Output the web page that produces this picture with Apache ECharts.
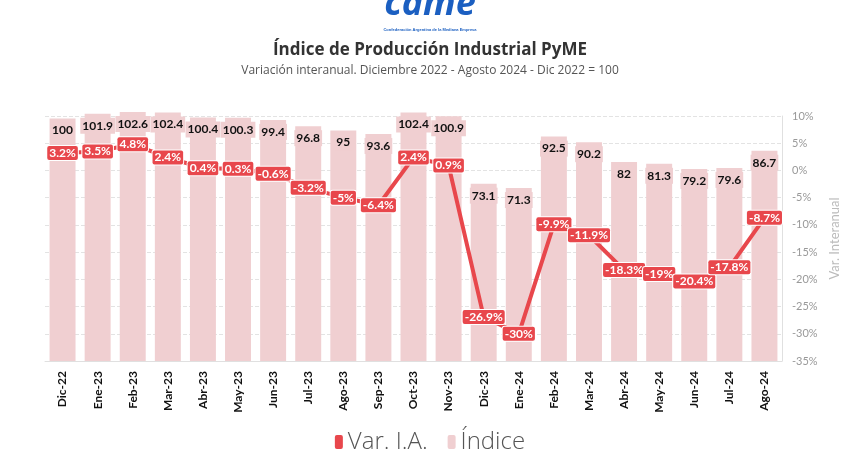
<!DOCTYPE html>
<html><head><meta charset="utf-8">
<script src="https://cdn.jsdelivr.net/npm/echarts@6/dist/echarts.min.js"></script>
<style>html,body{margin:0;padding:0;background:#fff}#c{width:860px;height:461px}</style>
</head><body><div id="c"></div>
<script>
const categories = ['Dic-22','Ene-23','Feb-23','Mar-23','Abr-23','May-23','Jun-23','Jul-23','Ago-23','Sep-23','Oct-23','Nov-23','Dic-23','Ene-24','Feb-24','Mar-24','Abr-24','May-24','Jun-24','Jul-24','Ago-24'];
const indice = [100,101.9,102.6,102.4,100.4,100.3,99.4,96.8,95,93.6,102.4,100.9,73.1,71.3,92.5,90.2,82,81.3,79.2,79.6,86.7];
const varIA = [3.2,3.5,4.8,2.4,0.4,0.3,-0.6,-3.2,-5,-6.4,2.4,0.9,-26.9,-30,-9.9,-11.9,-18.3,-19,-20.4,-17.8,-8.7];
const rightTicks = {min:-35, max:10, interval:5};

const F = 'Lato, "Open Sans", sans-serif';
const RED = '#e8474c', PINK = '#f0cfd1';
const chart = echarts.init(document.getElementById('c'));
chart.setOption({
  animation:false,
  textStyle:{fontFamily:F},
  graphic:[
    {type:'text', left:'center', top:-13, style:{text:'came', font:'bold italic 36px "Open Sans", sans-serif', fill:'#1b5fc1'}},
    {type:'text', left:'center', top:28, style:{text:'Confederación Argentina de la Mediana Empresa', font:'bold 4px sans-serif', fill:'#1b5fc1'}}
  ],
  title:{
    text:'Índice de Producción Industrial PyME',
    subtext:'Variación interanual. Diciembre 2022 - Agosto 2024 - Dic 2022 = 100',
    left:'center', top:37, itemGap:6,
    textStyle:{fontFamily:'"Open Sans", sans-serif', fontSize:17, fontWeight:'bold', color:'#333'},
    subtextStyle:{fontFamily:'"Open Sans", sans-serif', fontSize:12, color:'#555'}
  },
  legend:{
    bottom:2, left:'center', itemWidth:8, itemHeight:14, itemGap:20,
    textStyle:{fontFamily:'"Open Sans", sans-serif', fontSize:24, color:'#555', fontWeight:300},
    data:[{name:'Var. I.A.', icon:'roundRect'},{name:'Índice', icon:'roundRect'}]
  },
  grid:{left:45, right:78, top:116, bottom:100},
  xAxis:{
    type:'category', data:categories,
    axisLine:{lineStyle:{color:'#e0e0e0'}},
    axisTick:{alignWithLabel:true, lineStyle:{color:'#e0e0e0'}},
    axisLabel:{rotate:90, fontSize:12, fontWeight:'bold', color:'#111', margin:10, interval:0}
  },
  yAxis:[
    {type:'value', min:0, max:101, show:false, splitLine:{show:false}},
    {type:'value', position:'right', min:rightTicks.min, max:rightTicks.max, interval:rightTicks.interval,
     name:'Var. Interanual', nameLocation:'middle', nameGap:38, nameRotate:90,
     nameTextStyle:{color:'#bbb', fontSize:13},
     axisLine:{show:true, lineStyle:{color:'#e0e0e0'}},
     axisTick:{show:false},
     axisLabel:{formatter:'{value}%', color:'#999', fontSize:11, margin:10},
     splitLine:{lineStyle:{type:'dashed', color:'#e3e3e3'}}}
  ],
  series:[
    {name:'Índice', type:'bar', data:indice, yAxisIndex:0, barWidth:'74%', clip:false,
     itemStyle:{color:PINK},
     label:{show:true, position:'insideTop', distance:4, fontSize:12, fontWeight:'bold', color:'#111',
            backgroundColor:PINK, padding:[2,2]}},
    {name:'Var. I.A.', type:'line', data:varIA, yAxisIndex:1, z:5,
     lineStyle:{color:RED, width:4}, itemStyle:{color:RED}, symbol:'circle', symbolSize:2, showSymbol:true,
     labelLayout:{hideOverlap:false},
     label:{show:true, position:'inside', formatter:p=>p.value+'%', fontSize:12, fontWeight:'bold', color:'#fff',
            backgroundColor:RED, borderColor:'#fff', borderWidth:1, borderRadius:2, padding:[1,2]}}
  ]
});
</script></body></html>
